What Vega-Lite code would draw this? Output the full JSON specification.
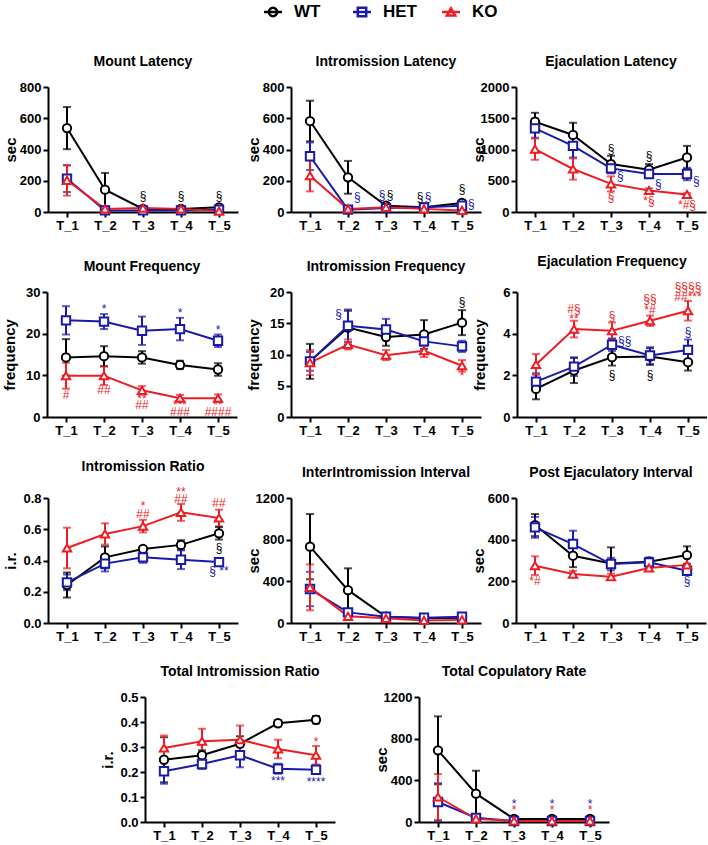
{
"$schema": "https://vega.github.io/schema/vega-lite/v6.json",
"padding": {"left": 1, "top": 2, "right": 0, "bottom": 0},
"datasets": {
"lg": [{"g":"WT"},{"g":"HET"},{"g":"KO"}],
"d": [
{"p":"ML","g":"WT","t":"T_1","m":537,"e":135},{"p":"ML","g":"WT","t":"T_2","m":143,"e":107},{"p":"ML","g":"WT","t":"T_3","m":20,"e":8},{"p":"ML","g":"WT","t":"T_4","m":20,"e":8},{"p":"ML","g":"WT","t":"T_5","m":30,"e":10},
{"p":"ML","g":"HET","t":"T_1","m":213,"e":85},{"p":"ML","g":"HET","t":"T_2","m":10,"e":5},{"p":"ML","g":"HET","t":"T_3","m":10,"e":5},{"p":"ML","g":"HET","t":"T_4","m":10,"e":5},{"p":"ML","g":"HET","t":"T_5","m":15,"e":5},
{"p":"ML","g":"KO","t":"T_1","m":203,"e":98},{"p":"ML","g":"KO","t":"T_2","m":20,"e":8},{"p":"ML","g":"KO","t":"T_3","m":25,"e":8},{"p":"ML","g":"KO","t":"T_4","m":20,"e":8},{"p":"ML","g":"KO","t":"T_5","m":5,"e":5},
{"p":"IL","g":"WT","t":"T_1","m":582,"e":130},{"p":"IL","g":"WT","t":"T_2","m":222,"e":105},{"p":"IL","g":"WT","t":"T_3","m":40,"e":10},{"p":"IL","g":"WT","t":"T_4","m":30,"e":10},{"p":"IL","g":"WT","t":"T_5","m":58,"e":15},
{"p":"IL","g":"HET","t":"T_1","m":357,"e":88},{"p":"IL","g":"HET","t":"T_2","m":15,"e":5},{"p":"IL","g":"HET","t":"T_3","m":25,"e":8},{"p":"IL","g":"HET","t":"T_4","m":30,"e":8},{"p":"IL","g":"HET","t":"T_5","m":40,"e":10},
{"p":"IL","g":"KO","t":"T_1","m":232,"e":100},{"p":"IL","g":"KO","t":"T_2","m":20,"e":5},{"p":"IL","g":"KO","t":"T_3","m":30,"e":8},{"p":"IL","g":"KO","t":"T_4","m":20,"e":5},{"p":"IL","g":"KO","t":"T_5","m":10,"e":5},
{"p":"EL","g":"WT","t":"T_1","m":1444,"e":143},{"p":"EL","g":"WT","t":"T_2","m":1233,"e":195},{"p":"EL","g":"WT","t":"T_3","m":767,"e":133},{"p":"EL","g":"WT","t":"T_4","m":677,"e":90},{"p":"EL","g":"WT","t":"T_5","m":873,"e":185},
{"p":"EL","g":"HET","t":"T_1","m":1339,"e":150},{"p":"EL","g":"HET","t":"T_2","m":1058,"e":185},{"p":"EL","g":"HET","t":"T_3","m":698,"e":80},{"p":"EL","g":"HET","t":"T_4","m":608,"e":60},{"p":"EL","g":"HET","t":"T_5","m":608,"e":100},
{"p":"EL","g":"KO","t":"T_1","m":1005,"e":170},{"p":"EL","g":"KO","t":"T_2","m":688,"e":170},{"p":"EL","g":"KO","t":"T_3","m":450,"e":120},{"p":"EL","g":"KO","t":"T_4","m":344,"e":35},{"p":"EL","g":"KO","t":"T_5","m":280,"e":20},
{"p":"MF","g":"WT","t":"T_1","m":14.3,"e":4.4},{"p":"MF","g":"WT","t":"T_2","m":14.6,"e":2.4},{"p":"MF","g":"WT","t":"T_3","m":14.3,"e":1.5},{"p":"MF","g":"WT","t":"T_4","m":12.5,"e":1.0},{"p":"MF","g":"WT","t":"T_5","m":11.4,"e":1.5},
{"p":"MF","g":"HET","t":"T_1","m":23.2,"e":3.4},{"p":"MF","g":"HET","t":"T_2","m":22.9,"e":1.8},{"p":"MF","g":"HET","t":"T_3","m":20.7,"e":3.4},{"p":"MF","g":"HET","t":"T_4","m":21.1,"e":2.7},{"p":"MF","g":"HET","t":"T_5","m":18.3,"e":1.5},
{"p":"MF","g":"KO","t":"T_1","m":9.9,"e":3.1},{"p":"MF","g":"KO","t":"T_2","m":9.9,"e":2.2},{"p":"MF","g":"KO","t":"T_3","m":6.4,"e":1.0},{"p":"MF","g":"KO","t":"T_4","m":4.5,"e":0.8},{"p":"MF","g":"KO","t":"T_5","m":4.5,"e":0.9},
{"p":"IF","g":"WT","t":"T_1","m":8.9,"e":2.8},{"p":"IF","g":"WT","t":"T_2","m":14.3,"e":2.7},{"p":"IF","g":"WT","t":"T_3","m":12.8,"e":1.4},{"p":"IF","g":"WT","t":"T_4","m":13.2,"e":2.3},{"p":"IF","g":"WT","t":"T_5","m":15.1,"e":2.0},
{"p":"IF","g":"HET","t":"T_1","m":8.9,"e":1.5},{"p":"IF","g":"HET","t":"T_2","m":14.6,"e":2.6},{"p":"IF","g":"HET","t":"T_3","m":14.0,"e":1.7},{"p":"IF","g":"HET","t":"T_4","m":12.1,"e":0.7},{"p":"IF","g":"HET","t":"T_5","m":11.3,"e":0.9},
{"p":"IF","g":"KO","t":"T_1","m":8.7,"e":2.0},{"p":"IF","g":"KO","t":"T_2","m":11.6,"e":0.8},{"p":"IF","g":"KO","t":"T_3","m":9.9,"e":0.8},{"p":"IF","g":"KO","t":"T_4","m":10.6,"e":1.0},{"p":"IF","g":"KO","t":"T_5","m":8.2,"e":0.9},
{"p":"EF","g":"WT","t":"T_1","m":1.35,"e":0.5},{"p":"EF","g":"WT","t":"T_2","m":2.23,"e":0.6},{"p":"EF","g":"WT","t":"T_3","m":2.87,"e":0.4},{"p":"EF","g":"WT","t":"T_4","m":2.9,"e":0.4},{"p":"EF","g":"WT","t":"T_5","m":2.63,"e":0.4},
{"p":"EF","g":"HET","t":"T_1","m":1.7,"e":0.4},{"p":"EF","g":"HET","t":"T_2","m":2.42,"e":0.45},{"p":"EF","g":"HET","t":"T_3","m":3.47,"e":0.3},{"p":"EF","g":"HET","t":"T_4","m":2.95,"e":0.4},{"p":"EF","g":"HET","t":"T_5","m":3.22,"e":0.5},
{"p":"EF","g":"KO","t":"T_1","m":2.52,"e":0.5},{"p":"EF","g":"KO","t":"T_2","m":4.22,"e":0.4},{"p":"EF","g":"KO","t":"T_3","m":4.14,"e":0.4},{"p":"EF","g":"KO","t":"T_4","m":4.62,"e":0.25},{"p":"EF","g":"KO","t":"T_5","m":5.1,"e":0.47},
{"p":"IR","g":"WT","t":"T_1","m":0.243,"e":0.08},{"p":"IR","g":"WT","t":"T_2","m":0.42,"e":0.07},{"p":"IR","g":"WT","t":"T_3","m":0.474,"e":0.015},{"p":"IR","g":"WT","t":"T_4","m":0.5,"e":0.03},{"p":"IR","g":"WT","t":"T_5","m":0.574,"e":0.04},
{"p":"IR","g":"HET","t":"T_1","m":0.26,"e":0.05},{"p":"IR","g":"HET","t":"T_2","m":0.38,"e":0.05},{"p":"IR","g":"HET","t":"T_3","m":0.42,"e":0.035},{"p":"IR","g":"HET","t":"T_4","m":0.405,"e":0.06},{"p":"IR","g":"HET","t":"T_5","m":0.39,"e":0.01},
{"p":"IR","g":"KO","t":"T_1","m":0.48,"e":0.13},{"p":"IR","g":"KO","t":"T_2","m":0.57,"e":0.068},{"p":"IR","g":"KO","t":"T_3","m":0.62,"e":0.04},{"p":"IR","g":"KO","t":"T_4","m":0.708,"e":0.054},{"p":"IR","g":"KO","t":"T_5","m":0.672,"e":0.053},
{"p":"III","g":"WT","t":"T_1","m":733,"e":313},{"p":"III","g":"WT","t":"T_2","m":315,"e":210},{"p":"III","g":"WT","t":"T_3","m":60,"e":10},{"p":"III","g":"WT","t":"T_4","m":45,"e":8},{"p":"III","g":"WT","t":"T_5","m":50,"e":10},
{"p":"III","g":"HET","t":"T_1","m":326,"e":165},{"p":"III","g":"HET","t":"T_2","m":102,"e":25},{"p":"III","g":"HET","t":"T_3","m":60,"e":10},{"p":"III","g":"HET","t":"T_4","m":50,"e":10},{"p":"III","g":"HET","t":"T_5","m":60,"e":10},
{"p":"III","g":"KO","t":"T_1","m":342,"e":220},{"p":"III","g":"KO","t":"T_2","m":64,"e":15},{"p":"III","g":"KO","t":"T_3","m":45,"e":8},{"p":"III","g":"KO","t":"T_4","m":25,"e":8},{"p":"III","g":"KO","t":"T_5","m":30,"e":8},
{"p":"PEI","g":"WT","t":"T_1","m":470,"e":53},{"p":"PEI","g":"WT","t":"T_2","m":323,"e":55},{"p":"PEI","g":"WT","t":"T_3","m":286,"e":77},{"p":"PEI","g":"WT","t":"T_4","m":294,"e":20},{"p":"PEI","g":"WT","t":"T_5","m":326,"e":42},
{"p":"PEI","g":"HET","t":"T_1","m":459,"e":50},{"p":"PEI","g":"HET","t":"T_2","m":379,"e":64},{"p":"PEI","g":"HET","t":"T_3","m":283,"e":30},{"p":"PEI","g":"HET","t":"T_4","m":291,"e":20},{"p":"PEI","g":"HET","t":"T_5","m":251,"e":15},
{"p":"PEI","g":"KO","t":"T_1","m":275,"e":45},{"p":"PEI","g":"KO","t":"T_2","m":235,"e":15},{"p":"PEI","g":"KO","t":"T_3","m":222,"e":15},{"p":"PEI","g":"KO","t":"T_4","m":264,"e":15},{"p":"PEI","g":"KO","t":"T_5","m":279,"e":40},
{"p":"TIR","g":"WT","t":"T_1","m":0.249,"e":0.09},{"p":"TIR","g":"WT","t":"T_2","m":0.267,"e":0.02},{"p":"TIR","g":"WT","t":"T_3","m":0.313,"e":0.03},{"p":"TIR","g":"WT","t":"T_4","m":0.395,"e":0.012},{"p":"TIR","g":"WT","t":"T_5","m":0.409,"e":0.015},
{"p":"TIR","g":"HET","t":"T_1","m":0.203,"e":0.05},{"p":"TIR","g":"HET","t":"T_2","m":0.232,"e":0.02},{"p":"TIR","g":"HET","t":"T_3","m":0.267,"e":0.048},{"p":"TIR","g":"HET","t":"T_4","m":0.213,"e":0.02},{"p":"TIR","g":"HET","t":"T_5","m":0.209,"e":0.015},
{"p":"TIR","g":"KO","t":"T_1","m":0.296,"e":0.05},{"p":"TIR","g":"KO","t":"T_2","m":0.323,"e":0.05},{"p":"TIR","g":"KO","t":"T_3","m":0.329,"e":0.057},{"p":"TIR","g":"KO","t":"T_4","m":0.292,"e":0.037},{"p":"TIR","g":"KO","t":"T_5","m":0.267,"e":0.037},
{"p":"TCR","g":"WT","t":"T_1","m":688,"e":326},{"p":"TCR","g":"WT","t":"T_2","m":272,"e":220},{"p":"TCR","g":"WT","t":"T_3","m":30,"e":10},{"p":"TCR","g":"WT","t":"T_4","m":30,"e":10},{"p":"TCR","g":"WT","t":"T_5","m":30,"e":10},
{"p":"TCR","g":"HET","t":"T_1","m":192,"e":180},{"p":"TCR","g":"HET","t":"T_2","m":40,"e":10},{"p":"TCR","g":"HET","t":"T_3","m":10,"e":5},{"p":"TCR","g":"HET","t":"T_4","m":10,"e":5},{"p":"TCR","g":"HET","t":"T_5","m":10,"e":5},
{"p":"TCR","g":"KO","t":"T_1","m":240,"e":220},{"p":"TCR","g":"KO","t":"T_2","m":30,"e":8},{"p":"TCR","g":"KO","t":"T_3","m":10,"e":5},{"p":"TCR","g":"KO","t":"T_4","m":10,"e":5},{"p":"TCR","g":"KO","t":"T_5","m":10,"e":5}
],
"a": [
{"p":"ML","g":"WT","t":"T_3","m":100,"lab":"§","pl":"c"},{"p":"ML","g":"WT","t":"T_4","m":100,"lab":"§","pl":"c"},{"p":"ML","g":"WT","t":"T_5","m":100,"lab":"§","pl":"c"},
{"p":"IL","g":"HET","t":"T_2","m":95,"lab":"§","pl":"R"},{"p":"IL","g":"HET","t":"T_3","m":110,"lab":"§","pl":"l"},{"p":"IL","g":"WT","t":"T_3","m":110,"lab":"§","pl":"r"},{"p":"IL","g":"WT","t":"T_4","m":93,"lab":"§","pl":"l"},{"p":"IL","g":"HET","t":"T_4","m":93,"lab":"§","pl":"r"},{"p":"IL","g":"WT","t":"T_5","m":147,"lab":"§","pl":"c"},{"p":"IL","g":"HET","t":"T_5","m":50,"lab":"§","pl":"R"},
{"p":"EL","g":"WT","t":"T_3","m":1005,"lab":"§","pl":"c"},{"p":"EL","g":"HET","t":"T_3","m":571,"lab":"§","pl":"R"},{"p":"EL","g":"KO","t":"T_3","m":238,"lab":"§","pl":"c"},{"p":"EL","g":"WT","t":"T_4","m":889,"lab":"§","pl":"c"},{"p":"EL","g":"HET","t":"T_4","m":450,"lab":"§","pl":"R"},{"p":"EL","g":"KO","t":"T_4","m":175,"lab":"*§","pl":"c"},{"p":"EL","g":"HET","t":"T_5","m":503,"lab":"§","pl":"R"},{"p":"EL","g":"KO","t":"T_5","m":106,"lab":"*#§","pl":"c"},
{"p":"MF","g":"HET","t":"T_2","m":25.9,"lab":"*","pl":"c"},{"p":"MF","g":"HET","t":"T_4","m":24.9,"lab":"*","pl":"c"},{"p":"MF","g":"HET","t":"T_5","m":20.9,"lab":"*","pl":"c"},{"p":"MF","g":"KO","t":"T_1","m":5.2,"lab":"#","pl":"c"},{"p":"MF","g":"KO","t":"T_2","m":6.4,"lab":"##","pl":"c"},{"p":"MF","g":"KO","t":"T_3","m":4.4,"lab":"**","pl":"c"},{"p":"MF","g":"KO","t":"T_3","m":2.8,"lab":"##","pl":"c"},{"p":"MF","g":"KO","t":"T_4","m":2.8,"lab":"***","pl":"c"},{"p":"MF","g":"KO","t":"T_4","m":1.2,"lab":"###","pl":"c"},{"p":"MF","g":"KO","t":"T_5","m":2.8,"lab":"**","pl":"c"},{"p":"MF","g":"KO","t":"T_5","m":1.2,"lab":"####","pl":"c"},
{"p":"IF","g":"HET","t":"T_2","m":16.5,"lab":"§","pl":"L"},{"p":"IF","g":"WT","t":"T_5","m":18.4,"lab":"§","pl":"c"},{"p":"IF","g":"KO","t":"T_5","m":6.6,"lab":"*","pl":"c"},
{"p":"EF","g":"KO","t":"T_2","m":5.2,"lab":"#§","pl":"c"},{"p":"EF","g":"KO","t":"T_2","m":4.7,"lab":"**","pl":"c"},{"p":"EF","g":"KO","t":"T_3","m":4.85,"lab":"§","pl":"c"},{"p":"EF","g":"KO","t":"T_4","m":5.65,"lab":"§§","pl":"c"},{"p":"EF","g":"KO","t":"T_4","m":5.14,"lab":"*#","pl":"c"},{"p":"EF","g":"KO","t":"T_5","m":6.25,"lab":"§§§§","pl":"c"},{"p":"EF","g":"KO","t":"T_5","m":5.76,"lab":"##***","pl":"c"},{"p":"EF","g":"HET","t":"T_3","m":3.66,"lab":"§§","pl":"R"},{"p":"EF","g":"HET","t":"T_5","m":4.1,"lab":"§","pl":"c"},{"p":"EF","g":"WT","t":"T_3","m":2.04,"lab":"§","pl":"c"},{"p":"EF","g":"WT","t":"T_4","m":2.04,"lab":"§","pl":"c"},
{"p":"IR","g":"KO","t":"T_3","m":0.75,"lab":"*","pl":"c"},{"p":"IR","g":"KO","t":"T_3","m":0.70,"lab":"##","pl":"c"},{"p":"IR","g":"KO","t":"T_4","m":0.84,"lab":"**","pl":"c"},{"p":"IR","g":"KO","t":"T_4","m":0.795,"lab":"##","pl":"c"},{"p":"IR","g":"KO","t":"T_5","m":0.766,"lab":"##","pl":"c"},{"p":"IR","g":"WT","t":"T_5","m":0.478,"lab":"§","pl":"c"},{"p":"IR","g":"HET","t":"T_5","m":0.335,"lab":"§ **","pl":"c"},
{"p":"PEI","g":"KO","t":"T_1","m":200,"lab":"*#","pl":"c"},{"p":"PEI","g":"HET","t":"T_5","m":203,"lab":"§","pl":"c"},
{"p":"TIR","g":"KO","t":"T_5","m":0.32,"lab":"*","pl":"c"},{"p":"TIR","g":"HET","t":"T_4","m":0.165,"lab":"***","pl":"c"},{"p":"TIR","g":"HET","t":"T_5","m":0.16,"lab":"****","pl":"c"},
{"p":"TCR","g":"HET","t":"T_3","m":173,"lab":"*","pl":"c"},{"p":"TCR","g":"KO","t":"T_3","m":112,"lab":"*","pl":"c"},{"p":"TCR","g":"HET","t":"T_4","m":173,"lab":"*","pl":"c"},{"p":"TCR","g":"KO","t":"T_4","m":112,"lab":"*","pl":"c"},{"p":"TCR","g":"HET","t":"T_5","m":173,"lab":"*","pl":"c"},{"p":"TCR","g":"KO","t":"T_5","m":112,"lab":"*","pl":"c"}
]
},
"config": {
"font": "Liberation Sans",
"view": {"stroke": null},
"legend": {"disable": true},
"axis": {"domainColor":"#000","domainWidth":2,"tickColor":"#000","tickWidth":2,"tickSize":5,"labelFont":"Liberation Sans","labelFontWeight":"bold","labelFontSize":13,"labelColor":"#000","labelPadding":2,"titleFont":"Liberation Sans","titleFontWeight":"bold","titleFontSize":15,"titleColor":"#000","grid":false},
"axisX": {"labelAngle":0},
"axisY": {"titleX":-30},
"title": {"font":"Liberation Sans","fontSize":14,"fontWeight":"bold","color":"#000","offset":12}
},
"spacing": 33,
"vconcat": [
{"width":420,"height":20,"data":{"name":"lg"},
"encoding":{"x":{"field":"g","type":"nominal","sort":["WT","HET","KO"],"scale":{"type":"point","padding":0,"range":[226,404]},"axis":null},
"color":{"field":"g","type":"nominal","scale":{"domain":["WT","HET","KO"],"range":["#000000","#1a1aaa","#ee1d23"]},"legend":null}},
"layer":[
{"mark":{"type":"point","shape":"M-1,0L1,0","size":324,"strokeWidth":2.5,"filled":false,"opacity":1}},
{"mark":{"type":"point","filled":false,"size":70,"strokeWidth":2.5,"opacity":1},"encoding":{"shape":{"field":"g","type":"nominal","scale":{"domain":["WT","HET","KO"],"range":["circle","square","triangle-up"]},"legend":null}}},
{"mark":{"type":"text","align":"left","dx":21,"fontSize":17,"fontWeight":"bold","baseline":"middle","font":"Liberation Sans"},"encoding":{"text":{"field":"g"},"color":{"value":"#000"}}}
]},
{"spacing": 22, "center": true, "vconcat": [
{"spacing": 8, "hconcat": [
{"title":"Mount Latency","width":190,"height":125,"data":{"name":"d"},"transform":[{"filter":"datum.p==='ML'"}],
"encoding":{"x":{"field":"t","type":"ordinal","scale":{"type":"point","padding":0.5},"title":null},
"y":{"field":"m","type":"quantitative","title":"sec","scale":{"domain":[0,800],"nice":false},"axis":{"values":[0,200,400,600,800],"format":"d"}},
"color":{"field":"g","type":"nominal","title":null,"scale":{"domain":["WT","HET","KO"],"range":["#000000","#1a1aaa","#ee1d23"]},"legend":null}},
"layer":[
{"mark":{"type":"errorbar","ticks":{"size":8},"thickness":2},"encoding":{"yError":{"field":"e"}}},
{"mark":{"type":"line","strokeWidth":2}},
{"mark":{"type":"point","filled":false,"fill":"white","size":70,"strokeWidth":2,"opacity":1},"encoding":{"shape":{"field":"g","type":"nominal","scale":{"domain":["WT","HET","KO"],"range":["circle","square","triangle-up"]},"legend":null}}},
{"data":{"name":"a"},"transform":[{"filter":"datum.p==='ML' && datum.pl==='c'"}],"mark":{"type":"text","fontSize":12,"baseline":"middle"},"encoding":{"text":{"field":"lab"}}}
]},
{"spacing": -10, "hconcat": [
{"title":"Intromission Latency","width":190,"height":125,"data":{"name":"d"},"transform":[{"filter":"datum.p==='IL'"}],
"encoding":{"x":{"field":"t","type":"ordinal","scale":{"type":"point","padding":0.5},"title":null},
"y":{"field":"m","type":"quantitative","title":"sec","scale":{"domain":[0,800],"nice":false},"axis":{"values":[0,200,400,600,800],"format":"d"}},
"color":{"field":"g","type":"nominal","title":null,"scale":{"domain":["WT","HET","KO"],"range":["#000000","#1a1aaa","#ee1d23"]},"legend":null}},
"layer":[
{"mark":{"type":"errorbar","ticks":{"size":8},"thickness":2},"encoding":{"yError":{"field":"e"}}},
{"mark":{"type":"line","strokeWidth":2}},
{"mark":{"type":"point","filled":false,"fill":"white","size":70,"strokeWidth":2,"opacity":1},"encoding":{"shape":{"field":"g","type":"nominal","scale":{"domain":["WT","HET","KO"],"range":["circle","square","triangle-up"]},"legend":null}}},
{"data":{"name":"a"},"transform":[{"filter":"datum.p==='IL' && datum.pl==='c'"}],"mark":{"type":"text","fontSize":12,"baseline":"middle"},"encoding":{"text":{"field":"lab"}}},
{"data":{"name":"a"},"transform":[{"filter":"datum.p==='IL' && datum.pl==='l'"}],"mark":{"type":"text","fontSize":12,"baseline":"middle","dx":-4},"encoding":{"text":{"field":"lab"}}},
{"data":{"name":"a"},"transform":[{"filter":"datum.p==='IL' && datum.pl==='r'"}],"mark":{"type":"text","fontSize":12,"baseline":"middle","dx":4},"encoding":{"text":{"field":"lab"}}},
{"data":{"name":"a"},"transform":[{"filter":"datum.p==='IL' && datum.pl==='R'"}],"mark":{"type":"text","fontSize":12,"baseline":"middle","align":"left","dx":6},"encoding":{"text":{"field":"lab"}}}
]},
{"title":"Ejaculation Latency","width":190,"height":125,"data":{"name":"d"},"transform":[{"filter":"datum.p==='EL'"}],
"encoding":{"x":{"field":"t","type":"ordinal","scale":{"type":"point","padding":0.5},"title":null},
"y":{"field":"m","type":"quantitative","title":"sec","scale":{"domain":[0,2000],"nice":false},"axis":{"values":[0,500,1000,1500,2000],"format":"d"}},
"color":{"field":"g","type":"nominal","title":null,"scale":{"domain":["WT","HET","KO"],"range":["#000000","#1a1aaa","#ee1d23"]},"legend":null}},
"layer":[
{"mark":{"type":"errorbar","ticks":{"size":8},"thickness":2},"encoding":{"yError":{"field":"e"}}},
{"mark":{"type":"line","strokeWidth":2}},
{"mark":{"type":"point","filled":false,"fill":"white","size":70,"strokeWidth":2,"opacity":1},"encoding":{"shape":{"field":"g","type":"nominal","scale":{"domain":["WT","HET","KO"],"range":["circle","square","triangle-up"]},"legend":null}}},
{"data":{"name":"a"},"transform":[{"filter":"datum.p==='EL' && datum.pl==='c'"}],"mark":{"type":"text","fontSize":12,"baseline":"middle"},"encoding":{"text":{"field":"lab"}}},
{"data":{"name":"a"},"transform":[{"filter":"datum.p==='EL' && datum.pl==='R'"}],"mark":{"type":"text","fontSize":12,"baseline":"middle","align":"left","dx":6},"encoding":{"text":{"field":"lab"}}}
]}
]}
]},
{"spacing": 8, "hconcat": [
{"title":"Mount Frequency","width":190,"height":125,"data":{"name":"d"},"transform":[{"filter":"datum.p==='MF'"}],
"encoding":{"x":{"field":"t","type":"ordinal","scale":{"type":"point","padding":0.5},"title":null},
"y":{"field":"m","type":"quantitative","title":"frequency","scale":{"domain":[0,30],"nice":false},"axis":{"values":[0,10,20,30]}},
"color":{"field":"g","type":"nominal","title":null,"scale":{"domain":["WT","HET","KO"],"range":["#000000","#1a1aaa","#ee1d23"]},"legend":null}},
"layer":[
{"mark":{"type":"errorbar","ticks":{"size":8},"thickness":2},"encoding":{"yError":{"field":"e"}}},
{"mark":{"type":"line","strokeWidth":2}},
{"mark":{"type":"point","filled":false,"fill":"white","size":70,"strokeWidth":2,"opacity":1},"encoding":{"shape":{"field":"g","type":"nominal","scale":{"domain":["WT","HET","KO"],"range":["circle","square","triangle-up"]},"legend":null}}},
{"data":{"name":"a"},"transform":[{"filter":"datum.p==='MF' && datum.pl==='c'"}],"mark":{"type":"text","fontSize":12,"baseline":"middle"},"encoding":{"text":{"field":"lab"}}}
]},
{"spacing": -10, "hconcat": [
{"title":"Intromission Frequency","width":190,"height":125,"data":{"name":"d"},"transform":[{"filter":"datum.p==='IF'"}],
"encoding":{"x":{"field":"t","type":"ordinal","scale":{"type":"point","padding":0.5},"title":null},
"y":{"field":"m","type":"quantitative","title":"frequency","scale":{"domain":[0,20],"nice":false},"axis":{"values":[0,5,10,15,20]}},
"color":{"field":"g","type":"nominal","title":null,"scale":{"domain":["WT","HET","KO"],"range":["#000000","#1a1aaa","#ee1d23"]},"legend":null}},
"layer":[
{"mark":{"type":"errorbar","ticks":{"size":8},"thickness":2},"encoding":{"yError":{"field":"e"}}},
{"mark":{"type":"line","strokeWidth":2}},
{"mark":{"type":"point","filled":false,"fill":"white","size":70,"strokeWidth":2,"opacity":1},"encoding":{"shape":{"field":"g","type":"nominal","scale":{"domain":["WT","HET","KO"],"range":["circle","square","triangle-up"]},"legend":null}}},
{"data":{"name":"a"},"transform":[{"filter":"datum.p==='IF' && datum.pl==='c'"}],"mark":{"type":"text","fontSize":12,"baseline":"middle"},"encoding":{"text":{"field":"lab"}}},
{"data":{"name":"a"},"transform":[{"filter":"datum.p==='IF' && datum.pl==='L'"}],"mark":{"type":"text","fontSize":12,"baseline":"middle","align":"right","dx":-6},"encoding":{"text":{"field":"lab"}}}
]},
{"title":"Ejaculation Frequency","width":190,"height":125,"data":{"name":"d"},"transform":[{"filter":"datum.p==='EF'"}],
"encoding":{"x":{"field":"t","type":"ordinal","scale":{"type":"point","padding":0.5},"title":null},
"y":{"field":"m","type":"quantitative","title":"frequency","scale":{"domain":[0,6],"nice":false},"axis":{"values":[0,2,4,6]}},
"color":{"field":"g","type":"nominal","title":null,"scale":{"domain":["WT","HET","KO"],"range":["#000000","#1a1aaa","#ee1d23"]},"legend":null}},
"layer":[
{"mark":{"type":"errorbar","ticks":{"size":8},"thickness":2},"encoding":{"yError":{"field":"e"}}},
{"mark":{"type":"line","strokeWidth":2}},
{"mark":{"type":"point","filled":false,"fill":"white","size":70,"strokeWidth":2,"opacity":1},"encoding":{"shape":{"field":"g","type":"nominal","scale":{"domain":["WT","HET","KO"],"range":["circle","square","triangle-up"]},"legend":null}}},
{"data":{"name":"a"},"transform":[{"filter":"datum.p==='EF' && datum.pl==='c'"}],"mark":{"type":"text","fontSize":12,"baseline":"middle"},"encoding":{"text":{"field":"lab"}}},
{"data":{"name":"a"},"transform":[{"filter":"datum.p==='EF' && datum.pl==='R'"}],"mark":{"type":"text","fontSize":12,"baseline":"middle","align":"left","dx":6},"encoding":{"text":{"field":"lab"}}}
]}
]}
]},
{"spacing": 8, "hconcat": [
{"title":"Intromission Ratio","width":190,"height":125,"data":{"name":"d"},"transform":[{"filter":"datum.p==='IR'"}],
"encoding":{"x":{"field":"t","type":"ordinal","scale":{"type":"point","padding":0.5},"title":null},
"y":{"field":"m","type":"quantitative","title":"i.r.","scale":{"domain":[0,0.8],"nice":false},"axis":{"values":[0,0.2,0.4,0.6,0.8],"format":".1f"}},
"color":{"field":"g","type":"nominal","title":null,"scale":{"domain":["WT","HET","KO"],"range":["#000000","#1a1aaa","#ee1d23"]},"legend":null}},
"layer":[
{"mark":{"type":"errorbar","ticks":{"size":8},"thickness":2},"encoding":{"yError":{"field":"e"}}},
{"mark":{"type":"line","strokeWidth":2}},
{"mark":{"type":"point","filled":false,"fill":"white","size":70,"strokeWidth":2,"opacity":1},"encoding":{"shape":{"field":"g","type":"nominal","scale":{"domain":["WT","HET","KO"],"range":["circle","square","triangle-up"]},"legend":null}}},
{"data":{"name":"a"},"transform":[{"filter":"datum.p==='IR' && datum.pl==='c'"}],"mark":{"type":"text","fontSize":12,"baseline":"middle"},"encoding":{"text":{"field":"lab"}}}
]},
{"spacing": -10, "hconcat": [
{"title":"InterIntromission Interval","width":190,"height":125,"data":{"name":"d"},"transform":[{"filter":"datum.p==='III'"}],
"encoding":{"x":{"field":"t","type":"ordinal","scale":{"type":"point","padding":0.5},"title":null},
"y":{"field":"m","type":"quantitative","title":"sec","scale":{"domain":[0,1200],"nice":false},"axis":{"values":[0,400,800,1200],"format":"d"}},
"color":{"field":"g","type":"nominal","title":null,"scale":{"domain":["WT","HET","KO"],"range":["#000000","#1a1aaa","#ee1d23"]},"legend":null}},
"layer":[
{"mark":{"type":"errorbar","ticks":{"size":8},"thickness":2},"encoding":{"yError":{"field":"e"}}},
{"mark":{"type":"line","strokeWidth":2}},
{"mark":{"type":"point","filled":false,"fill":"white","size":70,"strokeWidth":2,"opacity":1},"encoding":{"shape":{"field":"g","type":"nominal","scale":{"domain":["WT","HET","KO"],"range":["circle","square","triangle-up"]},"legend":null}}}
]},
{"title":"Post Ejaculatory Interval","width":190,"height":125,"data":{"name":"d"},"transform":[{"filter":"datum.p==='PEI'"}],
"encoding":{"x":{"field":"t","type":"ordinal","scale":{"type":"point","padding":0.5},"title":null},
"y":{"field":"m","type":"quantitative","title":"sec","scale":{"domain":[0,600],"nice":false},"axis":{"values":[0,200,400,600],"format":"d"}},
"color":{"field":"g","type":"nominal","title":null,"scale":{"domain":["WT","HET","KO"],"range":["#000000","#1a1aaa","#ee1d23"]},"legend":null}},
"layer":[
{"mark":{"type":"errorbar","ticks":{"size":8},"thickness":2},"encoding":{"yError":{"field":"e"}}},
{"mark":{"type":"line","strokeWidth":2}},
{"mark":{"type":"point","filled":false,"fill":"white","size":70,"strokeWidth":2,"opacity":1},"encoding":{"shape":{"field":"g","type":"nominal","scale":{"domain":["WT","HET","KO"],"range":["circle","square","triangle-up"]},"legend":null}}},
{"data":{"name":"a"},"transform":[{"filter":"datum.p==='PEI' && datum.pl==='c'"}],"mark":{"type":"text","fontSize":12,"baseline":"middle"},"encoding":{"text":{"field":"lab"}}}
]}
]}
]},
{"spacing": 39, "hconcat": [
{"title":"Total Intromission Ratio","width":190,"height":125,"data":{"name":"d"},"transform":[{"filter":"datum.p==='TIR'"}],
"encoding":{"x":{"field":"t","type":"ordinal","scale":{"type":"point","padding":0.5},"title":null},
"y":{"field":"m","type":"quantitative","title":"i.r.","scale":{"domain":[0,0.5],"nice":false},"axis":{"values":[0,0.1,0.2,0.3,0.4,0.5],"format":".1f"}},
"color":{"field":"g","type":"nominal","title":null,"scale":{"domain":["WT","HET","KO"],"range":["#000000","#1a1aaa","#ee1d23"]},"legend":null}},
"layer":[
{"mark":{"type":"errorbar","ticks":{"size":8},"thickness":2},"encoding":{"yError":{"field":"e"}}},
{"mark":{"type":"line","strokeWidth":2}},
{"mark":{"type":"point","filled":false,"fill":"white","size":70,"strokeWidth":2,"opacity":1},"encoding":{"shape":{"field":"g","type":"nominal","scale":{"domain":["WT","HET","KO"],"range":["circle","square","triangle-up"]},"legend":null}}},
{"data":{"name":"a"},"transform":[{"filter":"datum.p==='TIR' && datum.pl==='c'"}],"mark":{"type":"text","fontSize":12,"baseline":"middle"},"encoding":{"text":{"field":"lab"}}}
]},
{"title":"Total Copulatory Rate","width":190,"height":125,"data":{"name":"d"},"transform":[{"filter":"datum.p==='TCR'"}],
"encoding":{"x":{"field":"t","type":"ordinal","scale":{"type":"point","padding":0.5},"title":null},
"y":{"field":"m","type":"quantitative","title":"sec","scale":{"domain":[0,1200],"nice":false},"axis":{"values":[0,400,800,1200],"format":"d"}},
"color":{"field":"g","type":"nominal","title":null,"scale":{"domain":["WT","HET","KO"],"range":["#000000","#1a1aaa","#ee1d23"]},"legend":null}},
"layer":[
{"mark":{"type":"errorbar","ticks":{"size":8},"thickness":2},"encoding":{"yError":{"field":"e"}}},
{"mark":{"type":"line","strokeWidth":2}},
{"mark":{"type":"point","filled":false,"fill":"white","size":70,"strokeWidth":2,"opacity":1},"encoding":{"shape":{"field":"g","type":"nominal","scale":{"domain":["WT","HET","KO"],"range":["circle","square","triangle-up"]},"legend":null}}},
{"data":{"name":"a"},"transform":[{"filter":"datum.p==='TCR' && datum.pl==='c'"}],"mark":{"type":"text","fontSize":12,"baseline":"middle"},"encoding":{"text":{"field":"lab"}}}
]}
]}
]}
]
}
